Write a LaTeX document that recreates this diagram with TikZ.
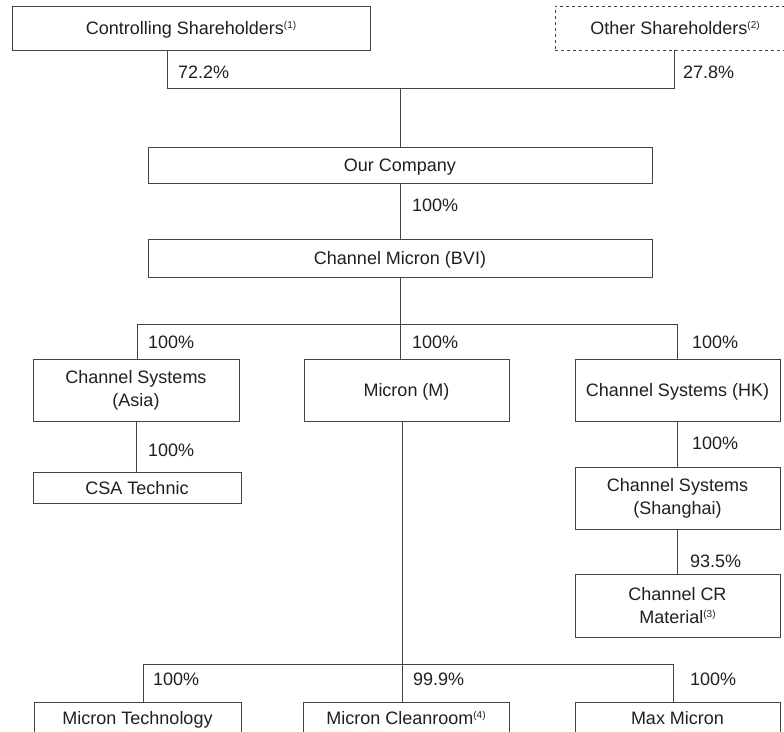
\documentclass[tikz,border=0pt]{standalone}
\usepackage{fontspec}
\setmainfont{Liberation Sans}
\definecolor{ink}{HTML}{231F20}
\definecolor{rule}{HTML}{444444}
\newcommand\fnote[1]{\raisebox{6pt}{\fontsize{10}{10}\selectfont(#1)}}
\begin{document}
\begin{tikzpicture}[x=1pt,y=-1pt,
  box/.style={draw=rule, line width=0.9pt, inner sep=0pt, align=center, text=ink,
    font=\fontsize{18}{23}\selectfont},
  one/.style={text height=13pt, text depth=0pt},
  pct/.style={anchor=west, inner sep=0pt, text=ink, font=\fontsize{18}{22}\selectfont},
  link/.style={draw=rule, line width=0.9pt}]
\useasboundingbox (0,0) rectangle (784,731);
\fill[white] (0,0) rectangle (784,731);
\clip (0,0) rectangle (784,731);

% boxes
\node[box, one, minimum width=358, minimum height=44] (ctrl) at (191,28) {Controlling Shareholders\fnote{1}};
\node[box, one, dashed, minimum width=240, minimum height=44] (other) at (675,28) {Other Shareholders\fnote{2}};
\node[box, one, minimum width=504, minimum height=36] (ourco) at (400,165) {Our Company};
\node[box, one, minimum width=504, minimum height=38] (bvi) at (400,258) {Channel Micron (BVI)};
\node[box, minimum width=206, minimum height=62] (asia) at (136,390) {Channel Systems\\(Asia)};
\node[box, one, minimum width=205, minimum height=62] (micm) at (406.5,390) {Micron (M)};
\node[box, one, minimum width=205, minimum height=62] (hk) at (677.5,390) {Channel Systems (HK)};
\node[box, one, minimum width=208, minimum height=31] (csa) at (137,487.5) {CSA Technic};
\node[box, minimum width=205, minimum height=62] (sh) at (677.5,498) {Channel Systems\\(Shanghai)};
\node[box, minimum width=205, minimum height=63] (cr) at (677.5,605.5) {Channel CR\\Material\fnote{3}};
\node[box, one, minimum width=207, minimum height=32] (mt) at (137.5,718) {Micron Technology};
\node[box, one, minimum width=206, minimum height=32] (mc) at (406,718) {Micron Cleanroom\fnote{4}};
\node[box, one, minimum width=205, minimum height=32] (mm) at (677.5,718) {Max Micron};

% junction points
\coordinate (t1) at (167,88);
\coordinate (t2) at (400,88);
\coordinate (t3) at (674,88);
\coordinate (m1) at (137,324);
\coordinate (m2) at (400,324);
\coordinate (m3) at (677,324);
\coordinate (b1) at (143,664);
\coordinate (b2) at (402,664);
\coordinate (b3) at (673,664);

% connectors
\draw[link] (t1 |- ctrl.south) -- (t1) -- (t3) -- (t3 |- other.south);
\draw[link] (t2) -- (t2 |- ourco.north);
\draw[link] (ourco.south) -- (bvi.north);
\draw[link] (bvi.south) -- (bvi.south |- m2);
\draw[link] (m1 |- asia.north) -- (m1) -- (m3) -- (m3 |- hk.north);
\draw[link] (m2) -- (m2 |- micm.north);
\draw[link] (asia.south) -- (asia.south |- csa.north);
\draw[link] (hk.south) -- (sh.north);
\draw[link] (sh.south) -- (cr.north);
\draw[link] (b2 |- micm.south) -- (b2 |- mc.north);
\draw[link] (b1 |- mt.north) -- (b1) -- (b3) -- (b3 |- mm.north);

% percentages
\node[pct] (p1) at (178,72) {72.2\%};
\node[pct] (p2) at (683,72) {27.8\%};
\node[pct] (p3) at (412,205) {100\%};
\node[pct] (p4) at (148,342) {100\%};
\node[pct] (p5) at (412,342) {100\%};
\node[pct] (p6) at (692,342) {100\%};
\node[pct] (p7) at (148,450) {100\%};
\node[pct] (p8) at (692,443) {100\%};
\node[pct] (p9) at (690,561) {93.5\%};
\node[pct] (p10) at (153,679) {100\%};
\node[pct] (p11) at (413,679) {99.9\%};
\node[pct] (p12) at (690,679) {100\%};
\end{tikzpicture}
\end{document}
